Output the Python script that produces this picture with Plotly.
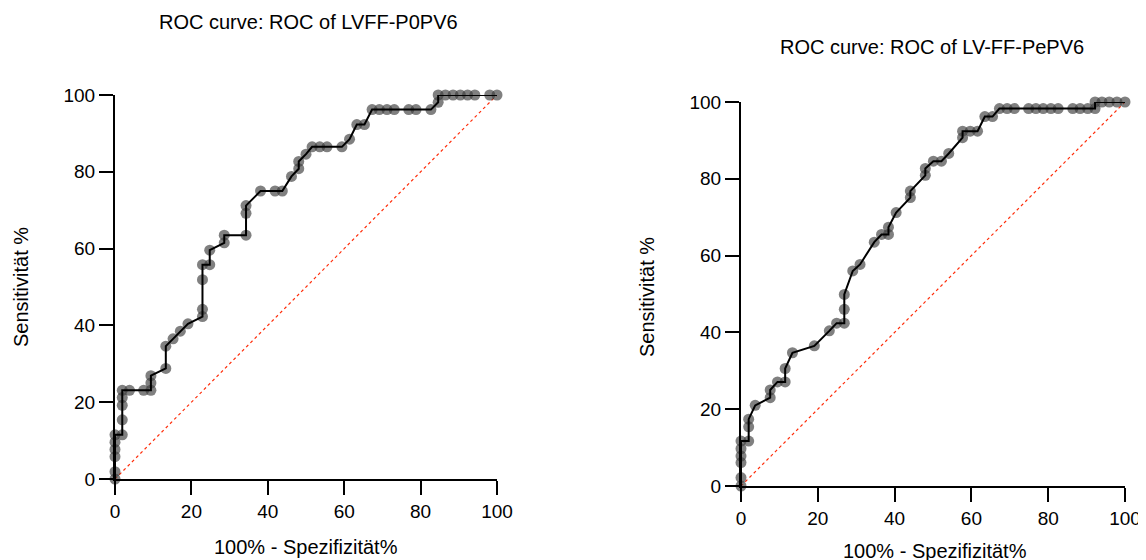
import plotly.graph_objects as go

# Left ROC: LVFF-P0PV6
left_x = [0, 0, 0, 0, 0, 0, 1.9, 1.9, 1.9, 1.9, 1.9, 3.8, 7.5, 9.4, 9.4, 9.4, 13.3, 13.3, 15.2, 17.1,
          19.1, 22.9, 22.9, 22.9, 22.9, 24.8, 24.8, 28.6, 28.6, 34.3, 34.3, 34.3, 38.1, 41.9, 43.8, 46.2,
          48.1, 48.1, 50.0, 51.6, 53.6, 55.5, 59.4, 61.4, 63.3, 65.3, 67.3, 69.2, 71.2, 73.1, 76.9, 78.8,
          82.7, 84.6, 84.6, 86.5, 88.5, 90.4, 92.3, 94.2, 98.1, 100]
left_y = [0, 1.9, 5.8, 7.7, 9.6, 11.5, 11.5, 15.4, 19.2, 21.2, 23.1, 23.1, 23.1, 23.1, 25, 26.9, 28.8, 34.6,
          36.5, 38.5, 40.4, 42.3, 44.2, 51.9, 55.8, 55.8, 59.6, 61.5, 63.5, 63.5, 69.2, 71.2, 75, 75, 75,
          78.8, 80.8, 82.7, 84.6, 86.5, 86.5, 86.5, 86.5, 88.5, 92.3, 92.3, 96.2, 96.2, 96.2, 96.2, 96.2,
          96.2, 96.2, 98.1, 100, 100, 100, 100, 100, 100, 100, 100]

# Right ROC: LV-FF-PePV6
right_x = [0, 0, 0, 0, 0, 0, 2.0, 2.0, 2.0, 3.7, 7.6, 7.6, 9.5, 11.5, 11.5, 13.4, 19.1, 23.0, 24.9, 26.9,
           26.9, 26.9, 29.1, 31.0, 34.7, 36.6, 38.4, 38.4, 40.4, 44.1, 44.1, 48.0, 48.0, 50.1, 52.2, 54.1,
           57.7, 57.7, 59.7, 61.6, 63.5, 65.5, 67.3, 69.3, 71.2, 74.9, 76.8, 78.7, 80.7, 82.6, 86.4, 88.3,
           90.3, 92.2, 92.2, 94.0, 95.9, 97.9, 100]
right_y = [0, 2.2, 6.1, 7.8, 9.7, 11.7, 11.7, 15.4, 17.4, 21.0, 23.0, 25.0, 27.1, 27.1, 30.6, 34.7, 36.5,
           40.4, 42.4, 42.4, 46.0, 49.9, 56.0, 57.7, 63.5, 65.5, 65.5, 67.4, 71.2, 75.1, 76.8, 80.9, 82.7,
           84.6, 84.6, 86.6, 90.7, 92.4, 92.4, 92.4, 96.2, 96.2, 98.3, 98.3, 98.3, 98.3, 98.3, 98.3, 98.3,
           98.3, 98.3, 98.3, 98.3, 98.3, 100, 100, 100, 100, 100]

ref_line = [0, 100]
tick_vals = [0, 20, 40, 60, 80, 100]
tick_text = ["0", "20", "40", "60", "80", "100"]

titles = ["ROC curve: ROC of LVFF-P0PV6", "ROC curve: ROC of LV-FF-PePV6"]
x_title = "100% - Spezifizität%"
y_title = "Sensitivität %"

FONT = "Arial, Liberation Sans, sans-serif"
W, H = 1146, 560
OFF = 8  # page body margin


def px(x):
    return (x - OFF) / W


def py(y):
    return 1 - (y - OFF) / H


fig = go.Figure()

panels = [
    dict(x=left_x, y=left_y, xa="x", ya="y", xd=(115, 497), yd=(95, 479)),
    dict(x=right_x, y=right_y, xa="x2", ya="y2", xd=(741, 1125), yd=(102, 486)),
]

for p in panels:
    fig.add_trace(go.Scatter(x=ref_line, y=ref_line, mode="lines", xaxis=p["xa"], yaxis=p["ya"],
                             line=dict(color="rgb(255,45,10)", width=1.2, dash="dot"),
                             showlegend=False, hoverinfo="skip"))
    fig.add_trace(go.Scatter(x=p["x"], y=p["y"], mode="markers", xaxis=p["xa"], yaxis=p["ya"],
                             marker=dict(size=11, color="rgba(60,60,60,0.65)", line=dict(width=0)),
                             cliponaxis=False, showlegend=False))
    fig.add_trace(go.Scatter(x=p["x"], y=p["y"], mode="lines", xaxis=p["xa"], yaxis=p["ya"],
                             line=dict(color="black", width=2), cliponaxis=False, showlegend=False))


def axis_common():
    return dict(range=[0, 100], tickvals=tick_vals, ticktext=tick_text, showgrid=False, zeroline=False,
                showline=True, linecolor="black", linewidth=2, ticks="outside", ticklen=14, tickwidth=2,
                tickcolor="black", tickfont=dict(family=FONT, size=19, color="black"),
                fixedrange=True, automargin=False)


layout = dict(width=W, height=H, margin=dict(l=0, r=0, t=0, b=0, autoexpand=False),
              plot_bgcolor="white", paper_bgcolor="white", showlegend=False)
for i, p in enumerate(panels):
    sfx = "" if i == 0 else "2"
    xa = axis_common()
    xa["domain"] = [px(p["xd"][0]), px(p["xd"][1])]
    xa["anchor"] = "y" + sfx
    ya = axis_common()
    ya["domain"] = [py(p["yd"][1]), py(p["yd"][0])]
    ya["anchor"] = "x" + sfx
    layout["xaxis" + sfx] = xa
    layout["yaxis" + sfx] = ya
fig.update_layout(**layout)

annos = [
    (308, 22, titles[0], 0), (932, 47, titles[1], 0),
    (306, 547, x_title, 0), (935, 551, x_title, 0),
    (21, 287, y_title, -90), (647, 297, y_title, -90),
]
for x, y, t, ang in annos:
    fig.add_annotation(x=px(x), y=py(y), xref="paper", yref="paper", text=t, showarrow=False,
                       textangle=ang, xanchor="center", yanchor="middle",
                       font=dict(family=FONT, size=20, color="black"))

fig.write_html("out.html")
